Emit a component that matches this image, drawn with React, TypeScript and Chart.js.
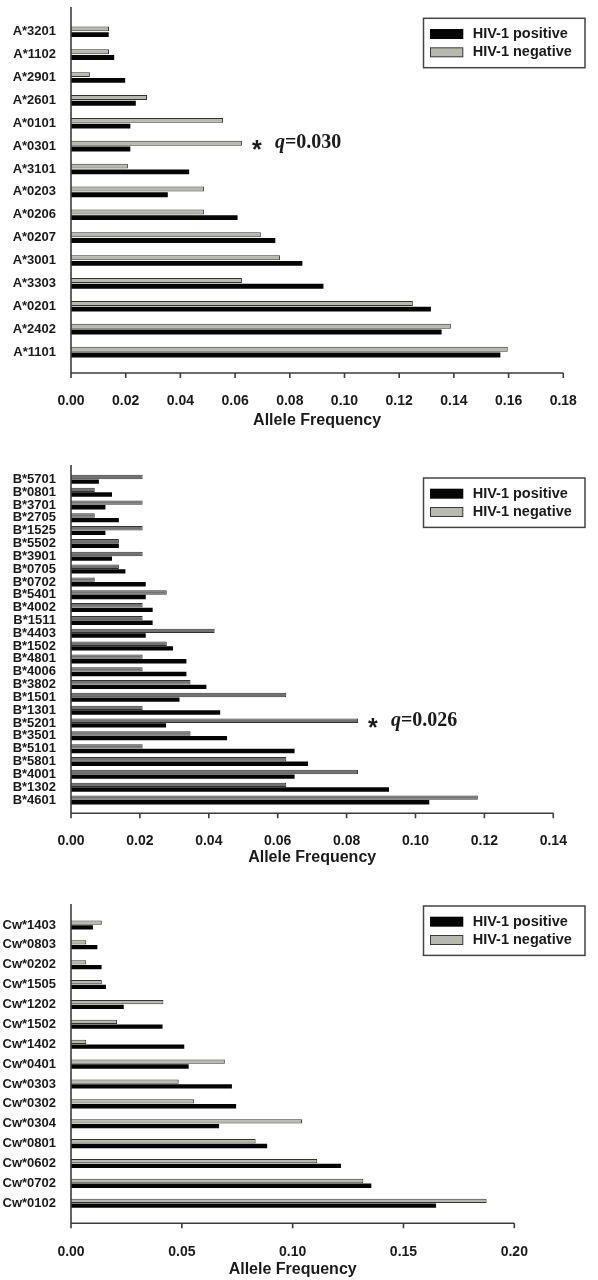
import React, { useEffect, useRef } from 'react';
import { Chart, registerables } from 'chart.js';

Chart.register(...registerables);

// ---------------- Data ----------------
const seriesNegative = 'HIV-1 negative';
const seriesPositive = 'HIV-1 positive';
const axisTitle = 'Allele Frequency';

const hlaALabels = ['A*3201', 'A*1102', 'A*2901', 'A*2601', 'A*0101', 'A*0301', 'A*3101', 'A*0203', 'A*0206', 'A*0207', 'A*3001', 'A*3303', 'A*0201', 'A*2402', 'A*1101'];
const hlaANegative = [0.0139, 0.0139, 0.0069, 0.0278, 0.0556, 0.0625, 0.0208, 0.0486, 0.0486, 0.0694, 0.0764, 0.0625, 0.125, 0.1389, 0.1597];
const hlaAPositive = [0.0138, 0.0158, 0.0198, 0.0237, 0.0217, 0.0217, 0.0432, 0.0354, 0.0609, 0.0747, 0.0846, 0.0923, 0.1316, 0.1355, 0.157];
const hlaAMax = 0.18;
const hlaAStep = 0.02;
const hlaAStarAllele = 'A*0301';
const hlaAStarQ = '0.030';

const hlaBLabels = ['B*5701', 'B*0801', 'B*3701', 'B*2705', 'B*1525', 'B*5502', 'B*3901', 'B*0705', 'B*0702', 'B*5401', 'B*4002', 'B*1511', 'B*4403', 'B*1502', 'B*4801', 'B*4006', 'B*3802', 'B*1501', 'B*1301', 'B*5201', 'B*3501', 'B*5101', 'B*5801', 'B*4001', 'B*1302', 'B*4601'];
const hlaBNegative = [0.0208, 0.0069, 0.0208, 0.0069, 0.0208, 0.0139, 0.0208, 0.0139, 0.0069, 0.0278, 0.0208, 0.0208, 0.0417, 0.0278, 0.0208, 0.0208, 0.0347, 0.0625, 0.0208, 0.0833, 0.0347, 0.0208, 0.0625, 0.0833, 0.0625, 0.1181];
const hlaBPositive = [0.0081, 0.0119, 0.01, 0.0139, 0.01, 0.0139, 0.0119, 0.0158, 0.0217, 0.0217, 0.0237, 0.0237, 0.0217, 0.0296, 0.0335, 0.0335, 0.0393, 0.0315, 0.0433, 0.0276, 0.0453, 0.0649, 0.0688, 0.0649, 0.0923, 0.104];
const hlaBMax = 0.14;
const hlaBStep = 0.02;
const hlaBStarAllele = 'B*5201';
const hlaBStarQ = '0.026';

const hlaCLabels = ['Cw*1403', 'Cw*0803', 'Cw*0202', 'Cw*1505', 'Cw*1202', 'Cw*1502', 'Cw*1402', 'Cw*0401', 'Cw*0303', 'Cw*0302', 'Cw*0304', 'Cw*0801', 'Cw*0602', 'Cw*0702', 'Cw*0102'];
const hlaCNegative = [0.0139, 0.0069, 0.0069, 0.0139, 0.0417, 0.0208, 0.0069, 0.0694, 0.0486, 0.0556, 0.1042, 0.0833, 0.1111, 0.1319, 0.1875];
const hlaCPositive = [0.0099, 0.0119, 0.0138, 0.0158, 0.0238, 0.0413, 0.0511, 0.0531, 0.0726, 0.0745, 0.0668, 0.0885, 0.1218, 0.1355, 0.1647];
const hlaCMax = 0.2;
const hlaCStep = 0.05;

// ---------------- Styling / layout ----------------
const SANS = '"Liberation Sans", Arial, Helvetica, sans-serif';
const SERIF = '"Liberation Serif", "Times New Roman", serif';
const INK = '#1a1a1a';
const AXIS = '#3d3d3d';
const BLACK_BAR = '#050505';
const LIGHT_GRAY = '#b7b9ae';
const WIDTH = 598;

type PanelSpec = {
  labels: string[];
  negative: number[];
  positive: number[];
  max: number;
  step: number;
  star?: { allele: string; q: string };
  top: number;
  height: number;
  catTop: number;
  catBottom: number;
  axisTop: number;
  axisY: number;
  tickLabelY: number;
  titleY: number;
  legendTop: number;
  padRight: number;
  catPct: number;
  barPct: number;
  negColor: string;
};

const panels: PanelSpec[] = [
  {
    labels: hlaALabels, negative: hlaANegative, positive: hlaAPositive, max: hlaAMax, step: hlaAStep,
    star: { allele: hlaAStarAllele, q: hlaAStarQ },
    top: 0, height: 440, catTop: 20.3, catBottom: 363.5, axisTop: 7, axisY: 373, tickLabelY: 393, titleY: 421,
    legendTop: 18.3, padRight: 15.3, catPct: 0.5, barPct: 0.86, negColor: LIGHT_GRAY,
  },
  {
    labels: hlaBLabels, negative: hlaBNegative, positive: hlaBPositive, max: hlaBMax, step: hlaBStep,
    star: { allele: hlaBStarAllele, q: hlaBStarQ },
    top: 450, height: 430, catTop: 472.9, catBottom: 806.4, axisTop: 465, axisY: 813.3, tickLabelY: 833.3, titleY: 858,
    legendTop: 478, padRight: 44.7, catPct: 0.72, barPct: 0.95, negColor: '#727272',
  },
  {
    labels: hlaCLabels, negative: hlaCNegative, positive: hlaCPositive, max: hlaCMax, step: hlaCStep,
    top: 885, height: 395, catTop: 915, catBottom: 1213.2, axisTop: 904, axisY: 1223.3, tickLabelY: 1244, titleY: 1270,
    legendTop: 906, padRight: 83.7, catPct: 0.48, barPct: 0.9, negColor: LIGHT_GRAY,
  },
];

function decorPlugin(spec: PanelSpec) {
  return {
    id: 'decor',
    afterDatasetsDraw(chart: any) {
      const { ctx, chartArea: ca, scales } = chart;
      const xs = scales.x;
      const axisY = spec.axisY - spec.top;
      const axisTop = spec.axisTop - spec.top;
      ctx.save();
      // axes
      ctx.strokeStyle = AXIS;
      ctx.lineWidth = 1.6;
      ctx.beginPath();
      ctx.moveTo(ca.left, axisTop);
      ctx.lineTo(ca.left, axisY);
      ctx.lineTo(ca.right, axisY);
      xs.ticks.forEach((t: any) => {
        const px = xs.getPixelForValue(t.value);
        ctx.moveTo(px, axisY);
        ctx.lineTo(px, axisY + 5);
      });
      ctx.stroke();

      // significance annotation
      if (spec.star) {
        const idx = spec.labels.indexOf(spec.star.allele);
        const el = chart.getDatasetMeta(0).data[idx];
        if (el) {
          const x0 = el.x + 10;
          const yc = el.y;
          ctx.fillStyle = INK;
          ctx.textBaseline = 'alphabetic';
          ctx.textAlign = 'left';
          ctx.font = `bold 25px ${SANS}`;
          ctx.fillText('*', x0, yc + 15);
          ctx.textBaseline = 'middle';
          ctx.font = `italic bold 20px ${SERIF}`;
          const qx = x0 + 23;
          ctx.fillText('q', qx, yc);
          const qw = ctx.measureText('q').width;
          ctx.font = `bold 20px ${SERIF}`;
          ctx.fillText('=' + spec.star.q, qx + qw, yc);
        }
      }

      // legend
      const lx = 423.5;
      const lw = 161.5;
      const ly = spec.legendTop - spec.top;
      const lh = 49.4;
      ctx.fillStyle = '#ffffff';
      ctx.fillRect(lx, ly, lw, lh);
      ctx.strokeStyle = '#444444';
      ctx.lineWidth = 1.5;
      ctx.strokeRect(lx, ly, lw, lh);
      const ds = chart.data.datasets;
      const entries = [
        { label: ds[1].label, color: BLACK_BAR, border: BLACK_BAR },
        { label: ds[0].label, color: LIGHT_GRAY, border: '#3a3a3a' },
      ];
      entries.forEach((e, i) => {
        const cy = ly + 15.7 + i * 18.3;
        ctx.fillStyle = e.border;
        ctx.fillRect(430, cy - 5, 33.3, 10);
        ctx.fillStyle = e.color;
        ctx.fillRect(431, cy - 4, 31.3, 8);
        ctx.fillStyle = INK;
        ctx.font = `bold 14.5px ${SANS}`;
        ctx.textAlign = 'left';
        ctx.textBaseline = 'middle';
        ctx.fillText(e.label, 472.7, cy);
      });
      ctx.restore();
    },
  };
}

function Panel({ spec }: { spec: PanelSpec }) {
  const ref = useRef<HTMLCanvasElement | null>(null);
  useEffect(() => {
    if (!ref.current) return;
    const scaleBottomLocal = spec.titleY - spec.top + 9.6;
    const chart = new Chart(ref.current, {
      type: 'bar',
      data: {
        labels: spec.labels,
        datasets: [
          {
            label: seriesNegative,
            data: spec.negative,
            backgroundColor: spec.negColor,
            borderColor: '#333333',
            borderWidth: 1,
            categoryPercentage: spec.catPct,
            barPercentage: spec.barPct,
          },
          {
            label: seriesPositive,
            data: spec.positive,
            backgroundColor: BLACK_BAR,
            borderWidth: 0,
            categoryPercentage: spec.catPct,
            barPercentage: spec.barPct,
          },
        ],
      },
      options: {
        indexAxis: 'y',
        responsive: false,
        maintainAspectRatio: false,
        animation: false,
        devicePixelRatio: 1,
        layout: {
          padding: {
            left: 0,
            top: spec.catTop - spec.top,
            right: spec.padRight,
            bottom: spec.height - scaleBottomLocal,
          },
        },
        plugins: {
          legend: { display: false },
          tooltip: { enabled: false },
        },
        scales: {
          y: {
            type: 'category',
            offset: true,
            grid: { display: false },
            border: { display: false },
            ticks: {
              autoSkip: false,
              padding: 7,
              color: INK,
              font: { family: SANS, size: 13, weight: 'bold' },
            },
            afterFit: (s: any) => {
              s.width = 71;
            },
          },
          x: {
            type: 'linear',
            min: 0,
            max: spec.max,
            grid: { display: false },
            border: { display: false },
            ticks: {
              stepSize: spec.step,
              padding: spec.tickLabelY - 8.4 - spec.catBottom,
              color: INK,
              font: { family: SANS, size: 14, weight: 'bold' },
              callback: (v: any) => Number(v).toFixed(2),
            },
            title: {
              display: true,
              text: axisTitle,
              color: INK,
              padding: 0,
              font: { family: SANS, size: 16, weight: 'bold' },
            },
            afterFit: (s: any) => {
              s.height = scaleBottomLocal - (spec.catBottom - spec.top);
            },
          },
        },
      } as any,
      plugins: [decorPlugin(spec)],
    });
    return () => chart.destroy();
  }, [spec]);
  return (
    <canvas
      ref={ref}
      width={WIDTH}
      height={spec.height}
      style={{ position: 'absolute', left: 0, top: spec.top, width: WIDTH, height: spec.height }}
    />
  );
}

export default function App() {
  useEffect(() => {
    document.body.style.margin = '0';
    document.body.style.background = '#ffffff';
  }, []);
  return (
    <div style={{ position: 'relative', width: WIDTH, height: 1280, background: '#ffffff', overflow: 'hidden' }}>
      {panels.map((p, i) => (
        <Panel key={i} spec={p} />
      ))}
    </div>
  );
}
